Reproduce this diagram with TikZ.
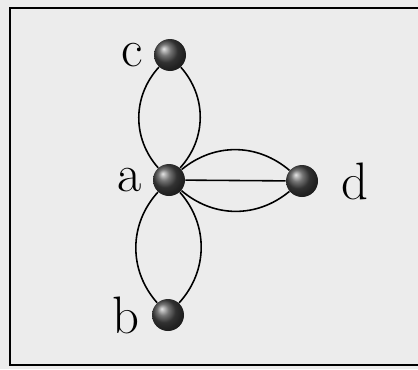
\documentclass[tikz,border=0pt]{standalone}
\usepackage{tikz}
\usepackage{xcolor}

\tikzset{
  vertex/.style={circle,inner sep=0pt,minimum size=0.64cm,ball color=gray!55!black},
  lbl/.style={font=\fontsize{30}{36}\selectfont,inner sep=1pt},
  edge/.style={line width=0.9pt}
}

\begin{document}
\begin{tikzpicture}[x=0.02cm,y=-0.02cm]
\useasboundingbox (0,0) rectangle (418,369);

% background and frame
\fill[gray!15] (0,0) rectangle (418,369);
\draw[line width=1.4pt] (420,8) -- (10,8) -- (10,365) -- (420,365);

\node[vertex,label={[lbl,label distance=5pt]left:c}] (c) at (170,55) {};
\node[vertex,label={[lbl,label distance=5pt]left:a}] (a) at (169,180) {};
\node[vertex,label={[lbl,label distance=12pt]right:d}] (d) at (302,181) {};
\node[vertex,label={[lbl,label distance=6pt]left:b}] (b) at (168,315) {};

\foreach \v in {c,b} {
  \draw[edge] (a) to[bend left=42] (\v);
  \draw[edge] (a) to[bend right=42] (\v);
}
\draw[edge] (a) to[bend left=40] (d);
\draw[edge] (a) to[bend right=40] (d);
\draw[edge] (a) -- (d);

\end{tikzpicture}
\end{document}
